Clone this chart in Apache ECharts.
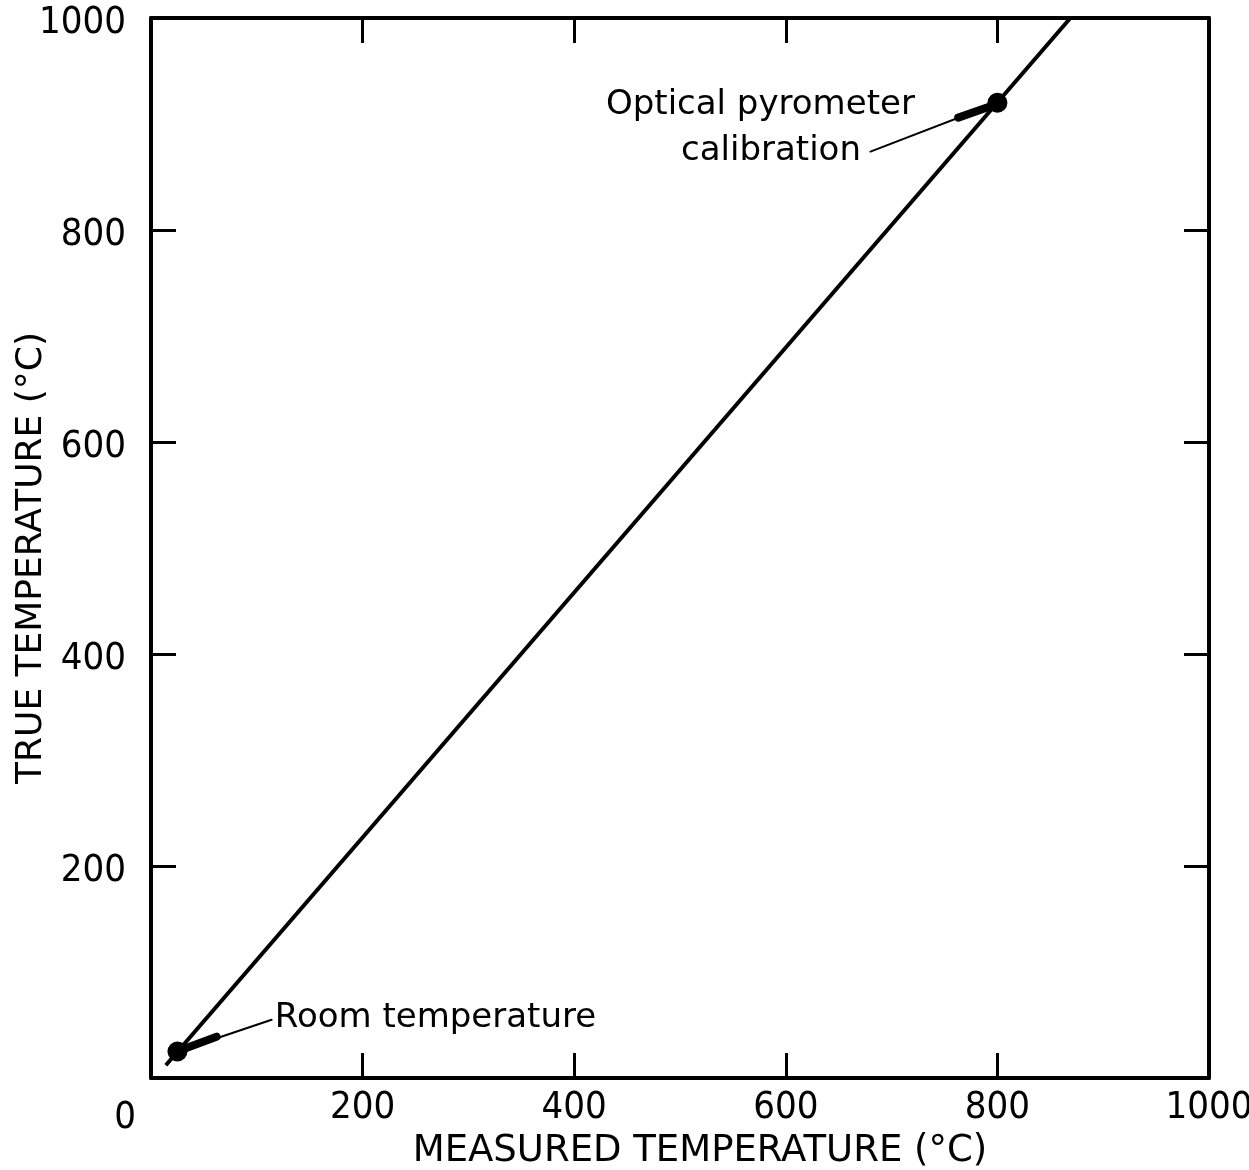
<!DOCTYPE html>
<html>
<head>
<meta charset="utf-8">
<script src="https://cdn.jsdelivr.net/npm/echarts@6/dist/echarts.min.js"></script>
<style>html,body{margin:0;padding:0;background:#fff;}#c{width:1249px;height:1170px;}</style>
</head>
<body>
<div id="c"></div>
<script>
// ---- data ----
var xTicks = [0, 200, 400, 600, 800, 1000];
var yTicks = [0, 200, 400, 600, 800, 1000];
var calibrationLine = [[14, 12], [869, 1000]];
var calibrationPoints = [[25, 25], [800, 920]];
var roomLeaderThin = [[25, 25], [114, 55]];
var roomLeaderThick = [[27, 26], [62, 39]];
var opticalLeaderThin = [[800, 920], [680, 874]];
var opticalLeaderThick = [[797, 918], [763, 906]];
var roomLabelAnchor = [[117, 56.5]];
var opticalLabelAnchor = [[576, 918]];
var calibLabelAnchor = [[586, 874]];
var xTitle = 'MEASURED TEMPERATURE (°C)';
var yTitle = 'TRUE TEMPERATURE (°C)';

var chart = echarts.init(document.getElementById('c'), null, {renderer: 'canvas'});
var tickFont = 'DejaVu Sans Condensed';
var txtFont = 'DejaVu Sans';
var axisLine = {show: true, onZero: false, lineStyle: {color: '#000', width: 4}};
var tick = {show: true, inside: true, length: 25, lineStyle: {color: '#000', width: 3}};

function seg(coords, w) {
  return {
    type: 'line', data: coords, symbol: 'none', silent: true,
    lineStyle: {color: '#000', width: w, cap: 'round', opacity: 1}, z: 3
  };
}
function txt(anchor, text, pos) {
  return {
    type: 'scatter', data: anchor, symbolSize: 0, silent: true,
    itemStyle: {opacity: 1},
    label: {show: true, position: pos, distance: 0, formatter: text,
      color: '#000', opacity: 1, fontFamily: txtFont, fontSize: 34}
  };
}

chart.setOption({
  animation: false,
  backgroundColor: '#fff',
  grid: {left: 151, top: 18, width: 1058, height: 1060, containLabel: false, outerBoundsMode: 'none'},
  xAxis: [{
    type: 'value', position: 'bottom', min: xTicks[0], max: xTicks[xTicks.length - 1], interval: 200,
    axisLine: axisLine, axisTick: tick, splitLine: {show: false},
    axisLabel: {
      margin: 11, color: '#000', fontFamily: tickFont, fontSize: 38, showMinLabel: true,
      formatter: function (v) { return v === 0 ? '{z|0}' : String(v); },
      rich: {z: {fontFamily: tickFont, fontSize: 38, color: '#000', padding: [10, 52, 0, 0]}}
    },
    name: xTitle, nameLocation: 'middle', nameGap: 55, nameMoveOverlap: false,
    nameTextStyle: {color: '#000', fontFamily: txtFont, fontSize: 37, padding: [0, 0, 0, 40]}
  }, {
    type: 'value', position: 'top', min: 0, max: 1000, interval: 200,
    axisLine: axisLine, axisTick: tick, splitLine: {show: false}, axisLabel: {show: false}
  }],
  yAxis: [{
    type: 'value', position: 'left', min: yTicks[0], max: yTicks[yTicks.length - 1], interval: 200,
    axisLine: axisLine, axisTick: tick, splitLine: {show: false},
    axisLabel: {margin: 25, color: '#000', fontFamily: tickFont, fontSize: 38, showMinLabel: false,
      formatter: function (v) { return '{a|' + v + '}'; },
      rich: {a: {fontFamily: tickFont, fontSize: 38, color: '#000', padding: [10, 0, 0, 0]}}},
    name: yTitle, nameLocation: 'middle', nameGap: 101, nameRotate: 90, nameMoveOverlap: false,
    nameTextStyle: {color: '#000', fontFamily: txtFont, fontSize: 36, padding: [0, 20, 0, 0]}
  }, {
    type: 'value', position: 'right', min: 0, max: 1000, interval: 200,
    axisLine: axisLine, axisTick: tick, splitLine: {show: false}, axisLabel: {show: false}
  }],
  series: [
    {type: 'line', data: calibrationLine, symbol: 'none', silent: true,
      lineStyle: {color: '#000', width: 4}, z: 2},
    seg(roomLeaderThin, 2), seg(roomLeaderThick, 8),
    seg(opticalLeaderThin, 2), seg(opticalLeaderThick, 8),
    {type: 'scatter', data: calibrationPoints, symbol: 'circle', symbolSize: 20,
      itemStyle: {color: '#000', opacity: 1}, silent: true, z: 4},
    txt(roomLabelAnchor, 'Room temperature', 'right'),
    txt(opticalLabelAnchor, 'Optical pyrometer', 'inside'),
    txt(calibLabelAnchor, 'calibration', 'inside')
  ]
});
</script>
</body>
</html>
